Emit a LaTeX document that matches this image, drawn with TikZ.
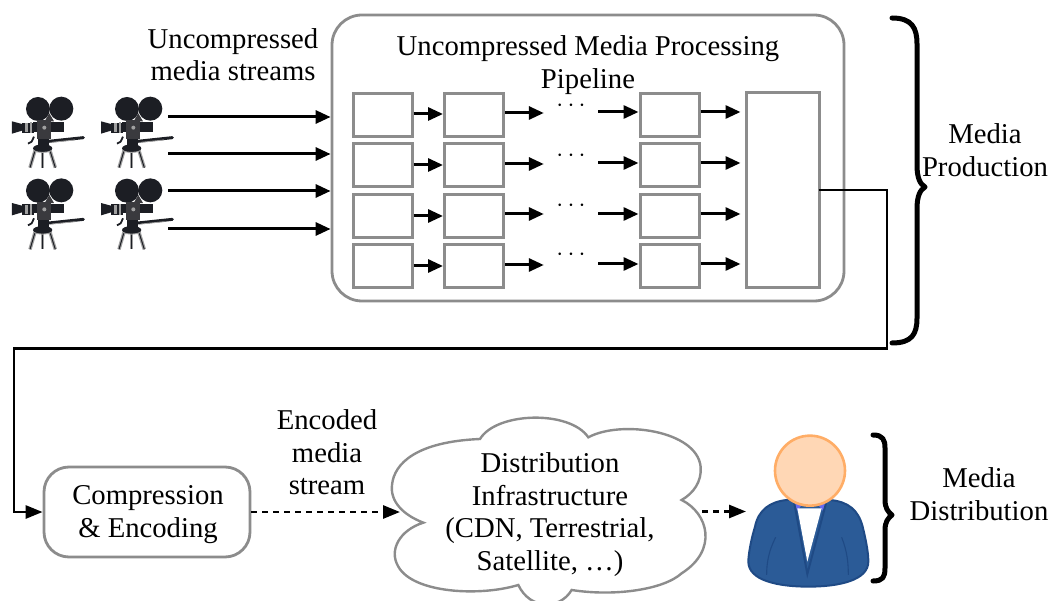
\documentclass[tikz,border=0pt]{standalone}
\usepackage{fontspec}
\setmainfont{Liberation Serif}
\usetikzlibrary{arrows.meta,calc}
\definecolor{boxgray}{HTML}{8C8C8C}
\definecolor{camdark}{HTML}{1C1E24}
\definecolor{cammid}{HTML}{3A3A3E}
\definecolor{camlight}{HTML}{A0A0A0}
\definecolor{suit}{HTML}{2B5B97}
\definecolor{suitline}{HTML}{1F4A85}
\definecolor{collar}{HTML}{6A6AF0}
\definecolor{skin}{HTML}{FFD7B5}
\definecolor{skinline}{HTML}{FFAD66}
\tikzset{
  lbl/.style={font=\fontsize{28.7}{32.5}\selectfont,align=center,inner sep=0pt},
  dotsnode/.style={font=\fontsize{23}{23}\selectfont,inner sep=0pt,minimum width=54pt,minimum height=6pt,text height=3pt,text depth=0pt},
  stagebox/.style={draw=boxgray,line width=3pt,fill=white,inner sep=0pt,minimum width=59pt,minimum height=43pt},
  bigbox/.style={draw=boxgray,line width=2.8pt,rounded corners=#1,inner sep=0pt,fill=white},
  arr/.style={line width=3pt,-{Triangle[length=15pt,width=13pt]}},
  darr/.style={line width=2.8pt,dash pattern=on 6pt off 5pt,-{Triangle[length=17pt,width=13pt]}},
  wire/.style={line width=2.8pt},
  bracestroke/.style={line width=5pt,line cap=round,line join=round},
  pics/camera/.style={code={
    \begin{scope}[x=0.3333pt,y=-0.3333pt]
      % tripod legs
      \foreach \xa/\xb in {105/90,128/128,150/166}{
        \draw[camlight,line width=3.4pt] (\xa,212) -- (\xb,263);
        \draw[camdark,line width=1pt] (\xa,212) -- (\xb,263);
      }
      \fill[camdark] (128,205) ellipse (29 and 12);
      \draw[camlight,line width=0.9pt] (100,212) .. controls (115,219) and (140,219) .. (156,212);
      \fill[camdark] (113,172) rectangle (147,198);
      \draw[camdark,line width=1.8pt] (102,170) -- (95,185) -- (84,191);
      % handle
      \draw[camdark,line width=3pt,line cap=round] (146,184) -- (250,173);
      \draw[camlight,line width=0.8pt] (155,187) -- (225,180);
      % reels
      \fill[camdark] (114,87) circle (36);
      \fill[camdark] (184,86) circle (36);
      \fill[cammid] (148,100) -- (162,124) -- (134,124) -- cycle;
      % body
      \fill[camdark] (100,126) rectangle (192,155);
      \fill[cammid] (112,120) rectangle (152,176);
      \fill[camlight] (133,143) circle (6);
      % lens
      \fill[camdark] (65,128) rectangle (102,159);
      \fill[camlight] (76,130) rectangle (83,157);
      \fill[camlight] (90,127) rectangle (97,160);
      \fill[camdark] (36,124) -- (66,132) -- (66,152) -- (36,161) -- cycle;
    \end{scope}
  }},
}
\begin{document}
\begin{tikzpicture}[x=1pt,y=-1pt]
\useasboundingbox (0,0) rectangle (1051,601);

% cameras
\pic at (0,80) {camera};
\pic at (89,80) {camera};
\pic at (0,161.7) {camera};
\pic at (89,161.7) {camera};

% pipeline
\node[bigbox=30pt,minimum width=512pt,minimum height=286pt] (pipe) at (588,158) {};
\foreach \r/\yy in {1/115,2/165.5,3/216,4/266.5}{
  \node[stagebox] (b\r1) at (382.5,\yy) {};
  \node[stagebox] (b\r2) at (474,\yy) {};
  \node[stagebox] (b\r3) at (669.5,\yy) {};
}
\node[stagebox,minimum width=73pt,minimum height=195pt] (sink) at (782.5,190.5) {};

\node[dotsnode] (d1) at (571,110) {$\cdots$};
\node[dotsnode] (d2) at (571,160) {$\cdots$};
\node[dotsnode] (d3) at (571,210) {$\cdots$};
\node[dotsnode] (d4) at (571,259) {$\cdots$};

\foreach \r/\ya/\yb/\yc in {1/114/113/112,2/165/164/163,3/216/214/214,4/266/265/264}{
  \draw[arr] (b\r1.east |- 0,\ya) -- (b\r2.west |- 0,\ya);
  \draw[arr] (b\r2.east |- 0,\yb) -- (d\r.west |- 0,\yb);
  \draw[arr] (d\r.east |- 0,\yc) -- (b\r3.west |- 0,\yc);
  \draw[arr] (b\r3.east |- 0,\yc) -- ([xshift=-4pt]sink.west |- 0,\yc);
}

% inputs
\coordinate (s1) at (168,117);
\coordinate (s2) at (168,154);
\coordinate (s3) at (168,191);
\coordinate (s4) at (168,229);
\foreach \i in {1,2,3,4}{
  \draw[arr] (s\i) -- (pipe.west |- s\i);
}

% compression
\node[bigbox=25pt,minimum width=206pt,minimum height=90pt] (comp) at (147,512) {};
\node[lbl] (comptxt) at (148,514.5) {Compression\\\& Encoding};

% long wire
\coordinate (c1) at (887,190);
\coordinate (c2) at (887,348.5);
\coordinate (c3) at (14,348.5);
\draw[wire,-{Triangle[length=17pt,width=13pt]}] ([xshift=-2pt]sink.east |- c1) -- (c1) -- (c2) -- (c3) -- (c3 |- comp.west) -- (comp.west);

% cloud
\begin{scope}[shift={(380,410)},x=0.3333pt,y=-0.3333pt]
  \draw[boxgray,line width=2.4pt,fill=white]
    (130,338) .. controls (70,315) and (30,275) .. (36,225)
    .. controls (42,160) and (110,95) .. (300,87)
    .. controls (350,5) and (570,0) .. (625,82)
    .. controls (720,30) and (950,60) .. (962,170)
    .. controls (966,215) and (940,250) .. (905,270)
    .. controls (985,310) and (1015,420) .. (905,490)
    .. controls (850,540) and (700,560) .. (575,540)
    .. controls (540,600) and (450,600) .. (415,525)
    .. controls (300,560) and (100,550) .. (55,470)
    .. controls (25,420) and (60,360) .. (130,338) -- cycle;
\end{scope}
\node[lbl] (cloudtxt) at (550,514.5) {Distribution\\Infrastructure\\(CDN, Terrestrial,\\Satellite, …)};
\coordinate (cloudin) at (400,512);
\coordinate (cloudout) at (702,511.5);
\coordinate (personin) at (746,511.5);
\draw[darr] (comp.east) -- (cloudin);
\draw[darr] (cloudout) -- (personin);

% person
\begin{scope}[shift={(720,420)},x=0.3333pt,y=-0.3333pt]
  \draw[suitline,line width=2pt,fill=suit]
    (200,240) .. controls (150,245) and (115,270) .. (105,320)
    .. controls (90,370) and (85,410) .. (85,425)
    .. controls (85,480) and (170,500) .. (265,500)
    .. controls (360,500) and (445,480) .. (445,425)
    .. controls (445,400) and (440,370) .. (428,320)
    .. controls (415,270) and (385,245) .. (330,240) -- cycle;
  \fill[collar] (218,240) -- (245,255) -- (232,272) -- cycle;
  \fill[collar] (322,240) -- (295,255) -- (308,272) -- cycle;
  \fill[white] (232,265) -- (305,265) -- (262,425) -- cycle;
  \draw[suitline,line width=2pt] (222,245) -- (262,462) -- (318,250);
  \draw[suitline,line width=1.1pt] (167,352) .. controls (145,395) and (140,430) .. (140,465);
  \draw[suitline,line width=1.1pt] (365,352) .. controls (382,395) and (385,430) .. (385,465);
  \draw[skinline,line width=2.6pt,fill=skin] (270,152) circle (105);
\end{scope}

% braces
\draw[bracestroke] (892,18) .. controls (912,18) and (917,28) .. (917,44)
  -- (917,165) .. controls (917,178) and (920,184) .. (925,187)
  .. controls (920,190) and (917,196) .. (917,209)
  -- (917,318) .. controls (917,334) and (912,343) .. (892,343);
\draw[bracestroke] (873,435) .. controls (883,435) and (885,440) .. (885,448)
  -- (885,500) .. controls (885,508) and (888,512) .. (892,515)
  .. controls (888,518) and (885,522) .. (885,530)
  -- (885,568) .. controls (885,577) and (883,581) .. (873,581);

% labels
\node[lbl] (t1) at (233,54.5) {Uncompressed\\media streams};
\node[lbl] (t2) at (588,65) {Uncompressed Media Processing\\Pipeline};
\node[lbl] (t3) at (985,150) {Media\\Production};
\node[lbl] (t4) at (327,452.5) {Encoded\\media\\stream};
\node[lbl] (t5) at (979,494) {Media\\Distribution};
\end{tikzpicture}
\end{document}
